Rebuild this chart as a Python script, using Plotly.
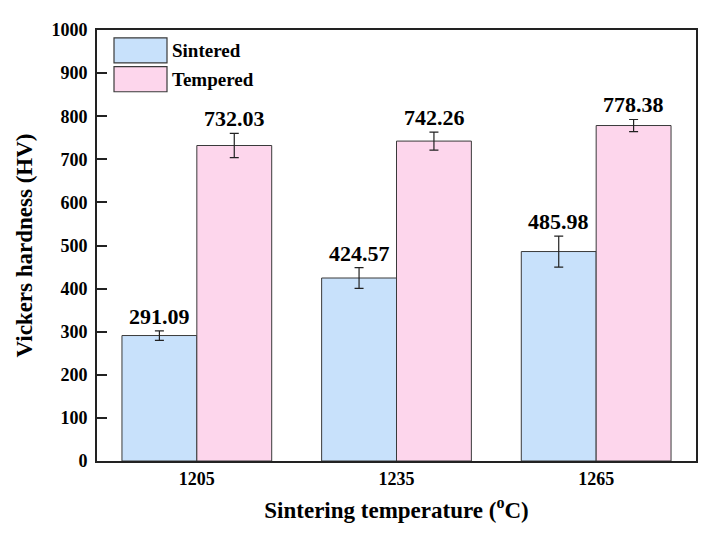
import plotly.graph_objects as go

temps = ["1205", "1235", "1265"]
sintered = [291.09, 424.57, 485.98]
sintered_err = [11, 24, 36]
tempered = [732.03, 742.26, 778.38]
tempered_err = [28, 21, 14]

blue = "#C8E1FB"
pink = "#FDD6EC"
edge = "#3a3a3a"
serif = "Liberation Serif"

fig = go.Figure()
fig.add_trace(go.Bar(
    x=temps, y=sintered, name="Sintered",
    marker=dict(color=blue, line=dict(color=edge, width=1)),
    error_y=dict(type="data", array=sintered_err, color="#222", thickness=1.2, width=4.5),
))
fig.add_trace(go.Bar(
    x=temps, y=tempered, name="Tempered",
    marker=dict(color=pink, line=dict(color=edge, width=1)),
    error_y=dict(type="data", array=tempered_err, color="#222", thickness=1.2, width=4.5),
))

# value labels sitting on top of the error bars (x as category index)
for vals, errs, shift in [(sintered, sintered_err, -37.5), (tempered, tempered_err, 37.5)]:
    for i, (v, e) in enumerate(zip(vals, errs)):
        fig.add_annotation(
            x=i, y=v + e, xref="x", yref="y", text=f"<b>{v:.2f}</b>",
            showarrow=False, xshift=shift, yshift=0, yanchor="bottom",
            font=dict(family=serif, size=22, color="black"),
        )

# hand-drawn legend with big swatches (pixel positions relative to plot area)
legend_items = [("Sintered", blue), ("Tempered", pink)]
for i, (lab, col) in enumerate(legend_items):
    y0 = 30.7 + i * 29.3
    fig.add_shape(type="rect", xref="paper", yref="paper",
                  x0=(114 - 97) / 599, x1=(167 - 97) / 599,
                  y0=(461 - y0 - 25.5) / 438.3, y1=(461 - y0) / 438.3,
                  fillcolor=col, line=dict(color=edge, width=1.2))
    fig.add_annotation(xref="paper", yref="paper",
                       x=(170 - 97) / 599, y=(461 - y0 - 12.8) / 438.3,
                       text=f"<b>{lab}</b>", showarrow=False, xanchor="left", yanchor="middle",
                       font=dict(family=serif, size=19, color="black"))

# page body has an 8px margin, so the figure is shrunk to fit
fig.update_layout(
    width=704, height=531,
    margin=dict(l=89, r=16, t=15, b=78),
    paper_bgcolor="white", plot_bgcolor="white",
    barmode="group", bargap=0.25, bargroupgap=0,
    showlegend=False,
    font=dict(family=serif, color="black"),
)
fig.update_xaxes(
    range=[-0.5, 2.5], showline=True, linecolor="#222", linewidth=2, mirror=True,
    ticks="", showgrid=False,
    tickfont=dict(family=serif, size=18, weight="bold"),
    title=dict(text="Sintering temperature (<sup>o</sup>C)", standoff=14,
               font=dict(family=serif, size=23, weight="bold")),
)
fig.update_yaxes(
    range=[0, 1000], dtick=100, showline=True, linecolor="#222", linewidth=2, mirror=True,
    ticks="inside", ticklen=10, tickwidth=1.5, tickcolor="#222", showgrid=False, zeroline=False,
    ticklabelstandoff=4,
    tickfont=dict(family=serif, size=18, weight="bold"),
    title=dict(text="Vickers hardness (HV)", standoff=12,
               font=dict(family=serif, size=23, weight="bold")),
)

fig.write_html("out.html")
